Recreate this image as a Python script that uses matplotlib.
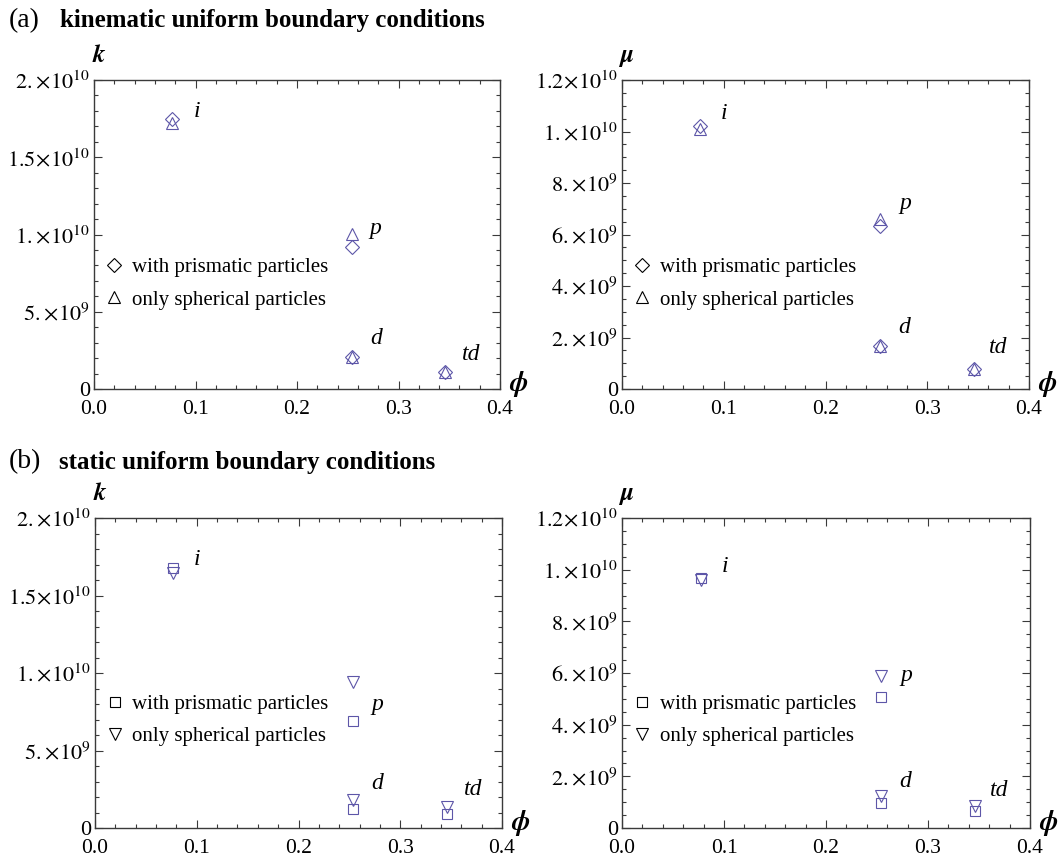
import matplotlib
matplotlib.use("Agg")
import matplotlib.pyplot as plt
from matplotlib.lines import Line2D
from matplotlib.ticker import FixedLocator, FixedFormatter, MultipleLocator

plt.rcParams['font.family'] = ['Liberation Serif', 'DejaVu Serif']
plt.rcParams['mathtext.fontset'] = 'stix'

# ---------------- data ----------------
phi = [0.077, 0.254, 0.254, 0.346]
case_labels = ['i', 'p', 'd', 'td']

kin_k_prism = [1.75e10, 9.2e9, 2.1e9, 1.08e9]
kin_k_sph = [1.72e10, 1.005e10, 2.1e9, 1.08e9]
kin_mu_prism = [1.02e10, 6.34e9, 1.66e9, 0.78e9]
kin_mu_sph = [1.01e10, 6.62e9, 1.66e9, 0.78e9]

sta_k_prism = [1.675e10, 6.92e9, 1.25e9, 0.92e9]
sta_k_sph = [1.645e10, 9.42e9, 1.83e9, 1.33e9]
sta_mu_prism = [9.68e9, 5.08e9, 0.97e9, 0.67e9]
sta_mu_sph = [9.6e9, 5.9e9, 1.25e9, 0.86e9]

x_ticks = [0.0, 0.1, 0.2, 0.3, 0.4]
x_ticklabels = ['0.0', '0.1', '0.2', '0.3', '0.4']
k_ticks = [0, 5e9, 1e10, 1.5e10, 2e10]
k_ticklabels = ['0', r'$5.\!\times\!10^{9}$', r'$1.\!\times\!10^{10}$',
                r'$1.5\!\times\!10^{10}$', r'$2.\!\times\!10^{10}$']
mu_ticks = [0, 2e9, 4e9, 6e9, 8e9, 1e10, 1.2e10]
mu_ticklabels = ['0', r'$2.\!\times\!10^{9}$', r'$4.\!\times\!10^{9}$',
                 r'$6.\!\times\!10^{9}$', r'$8.\!\times\!10^{9}$',
                 r'$1.\!\times\!10^{10}$', r'$1.2\!\times\!10^{10}$']

legend_prism = 'with prismatic particles'
legend_sph = 'only spherical particles'

# ---------------- style ----------------
MC = '#5d56a8'
SPINE = '#3a3a3a'
LW = 0.8
W, H = 1061, 860

fig = plt.figure(figsize=(W / 100, H / 100), dpi=100)


def ax_rect(l, t, r, b):
    return [l / W, 1 - b / H, (r - l) / W, (b - t) / H]


# label pixel offsets (dx, dy) relative to upper marker of each case
panels = [
    dict(rect=ax_rect(94, 80, 500, 389), yk='k', ylim=2e10, yt=k_ticks, ytl=k_ticklabels,
         yminor=1e9, prism=kin_k_prism, sph=kin_k_sph, pm='D', sm='^',
         pms=6.8, sms=9.0, offs=[(25, 7), (24, 5), (24, 18), (26, 18)],
         leg_y=(0.395, 0.288)),
    dict(rect=ax_rect(622, 80, 1029, 389), yk='μ', ylim=1.2e10, yt=mu_ticks, ytl=mu_ticklabels,
         yminor=5e8, prism=kin_mu_prism, sph=kin_mu_sph, pm='D', sm='^',
         pms=6.8, sms=9.0, offs=[(24, 13), (25, 15), (24, 19), (24, 21)],
         leg_y=(0.395, 0.288)),
    dict(rect=ax_rect(95, 518, 502, 828), yk='k', ylim=2e10, yt=k_ticks, ytl=k_ticklabels,
         yminor=1e9, prism=sta_k_prism, sph=sta_k_sph, pm='s', sm='v',
         pms=7.2, sms=9.0, offs=[(24, 9), (24, -23), (24, 16), (26, 18)],
         leg_y=(0.40, 0.295)),
    dict(rect=ax_rect(622, 518, 1030, 828), yk='μ', ylim=1.2e10, yt=mu_ticks, ytl=mu_ticklabels,
         yminor=5e8, prism=sta_mu_prism, sph=sta_mu_sph, pm='s', sm='v',
         pms=7.2, sms=9.0, offs=[(24, 11), (25, 0), (24, 14), (24, 15)],
         leg_y=(0.40, 0.295)),
]

for P in panels:
    ax = fig.add_axes(P['rect'])
    ax.plot(phi, P['prism'], linestyle='none', marker=P['pm'], ms=P['pms'],
            mfc='none', mec=MC, mew=LW)
    ax.plot(phi, P['sph'], linestyle='none', marker=P['sm'], ms=P['sms'],
            mfc='none', mec=MC, mew=LW)
    ax.set_xlim(0, 0.4)
    ax.set_ylim(0, P['ylim'])
    ax.xaxis.set_major_locator(FixedLocator(x_ticks))
    ax.xaxis.set_major_formatter(FixedFormatter(x_ticklabels))
    ax.xaxis.set_minor_locator(MultipleLocator(0.02))
    ax.yaxis.set_major_locator(FixedLocator(P['yt']))
    ax.yaxis.set_major_formatter(FixedFormatter(P['ytl']))
    ax.yaxis.set_minor_locator(MultipleLocator(P['yminor']))
    ax.tick_params(which='both', direction='in', top=True, right=True,
                   color=SPINE, width=0.8)
    ax.tick_params(axis='x', which='major', labelsize=15.5, pad=8)
    ax.tick_params(axis='y', which='major', labelsize=16, pad=3)
    ax.tick_params(which='major', length=6)
    ax.tick_params(which='minor', length=3)
    for s in ax.spines.values():
        s.set_color(SPINE)
        s.set_linewidth(1.0)

    # case labels
    for j, lab in enumerate(case_labels):
        top = max(P['prism'][j], P['sph'][j])
        dx, dy = P['offs'][j]
        ax.annotate(lab, (phi[j], top), xytext=(dx, dy), textcoords='offset pixels',
                    ha='center', va='center', fontsize=17, style='italic')

    # axis names
    ax.text(0.012, 1.08, P['yk'], transform=ax.transAxes, ha='center', va='center',
            fontsize=18, fontweight='bold', style='italic', family='STIXGeneral')
    ax.text(1.045, 0.015, 'ϕ', transform=ax.transAxes, ha='center', va='center',
            fontsize=20, fontweight='bold', style='italic', family='STIXGeneral')

    # legend
    h1 = Line2D([], [], linestyle='none', marker=P['pm'], ms=P['pms'], mfc='none',
                mec='black', mew=LW)
    h2 = Line2D([], [], linestyle='none', marker=P['sm'], ms=P['sms'], mfc='none',
                mec='black', mew=LW)
    ax.legend([h1, h2], [legend_prism, legend_sph], loc='center left',
              bbox_to_anchor=(0.0, (P['leg_y'][0] + P['leg_y'][1]) / 2),
              frameon=False, fontsize=15, handlelength=1.0, handletextpad=0.35,
              labelspacing=0.62, borderaxespad=0.05)

# section titles
fig.text(9 / W, 1 - 21 / H, '(a)', fontsize=20, va='center', ha='left')
fig.text(60 / W, 1 - 21 / H, 'kinematic uniform boundary conditions', fontsize=18,
         fontweight='bold', va='center', ha='left')
fig.text(9 / W, 1 - 462 / H, '(b)', fontsize=20, va='center', ha='left')
fig.text(59 / W, 1 - 462 / H, 'static uniform boundary conditions', fontsize=18,
         fontweight='bold', va='center', ha='left')

fig.savefig('out.png', dpi=100)
